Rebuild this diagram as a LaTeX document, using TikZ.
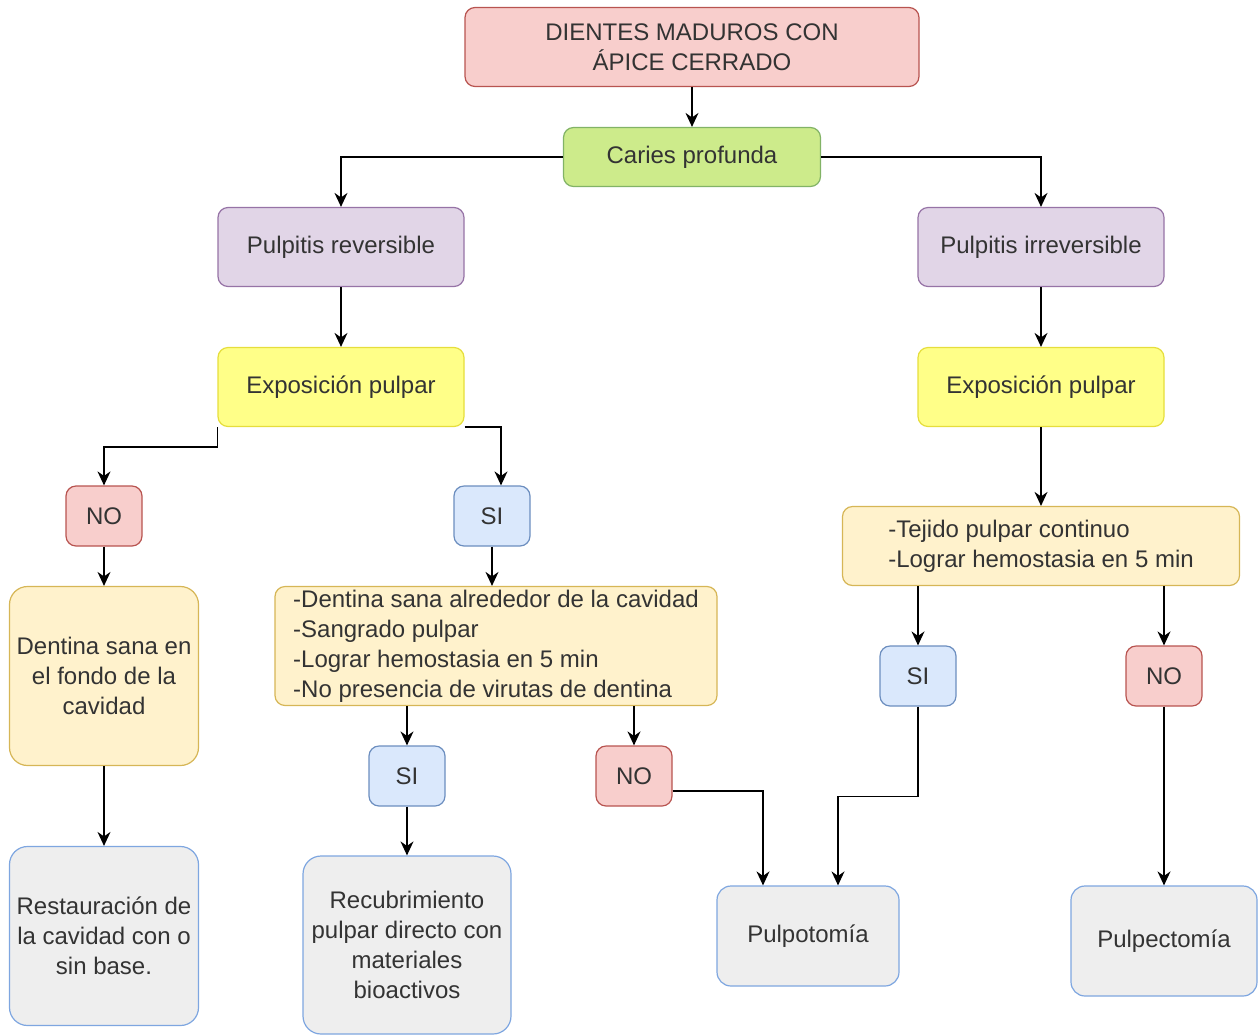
\documentclass[tikz,border=0pt]{standalone}
\usepackage{fontspec}
\setmainfont{Liberation Sans}
\usetikzlibrary{arrows.meta}

\definecolor{redfill}{HTML}{F8CECC}
\definecolor{redline}{HTML}{B85450}
\definecolor{greenfill}{HTML}{CDEB8B}
\definecolor{greenline}{HTML}{82B366}
\definecolor{lilafill}{HTML}{E1D5E7}
\definecolor{lilaline}{HTML}{9673A6}
\definecolor{yellowfill}{HTML}{FFFF88}
\definecolor{yellowline}{HTML}{E6DE3C}
\definecolor{notefill}{HTML}{FFF2CC}
\definecolor{noteline}{HTML}{D6B656}
\definecolor{bluefill}{HTML}{DAE8FC}
\definecolor{blueline}{HTML}{6C8EBF}
\definecolor{grayfill}{HTML}{EEEEEE}
\definecolor{grayline}{HTML}{7EA6E0}
\definecolor{txt}{HTML}{333333}

\tikzset{
  box/.style={draw, rounded corners=5pt, line width=0.6pt, inner sep=0pt,
    align=center, text=txt, font=\fontsize{12}{15}\selectfont},
  redbox/.style={box, fill=redfill, draw=redline},
  greenbox/.style={box, fill=greenfill, draw=greenline},
  lilabox/.style={box, fill=lilafill, draw=lilaline},
  yellowbox/.style={box, fill=yellowfill, draw=yellowline},
  notebox/.style={box, fill=notefill, draw=noteline},
  bluebox/.style={box, fill=bluefill, draw=blueline},
  endbox/.style={box, fill=grayfill, draw=grayline, rounded corners=9pt},
  answer/.style={minimum width=38pt, minimum height=30pt},
  arrow/.style={-{Stealth[length=7pt,width=6.5pt]}, line width=0.7pt, black}
}

\begin{document}
\begin{tikzpicture}[x=0.5pt, y=-0.5pt]
  % page size, same as the 1258 x 1034 reference
  \useasboundingbox (0,0) rectangle (1258,1034);

  % top of the tree
  \node[redbox, minimum width=227pt, minimum height=39.5pt] (dientes) at (692,47)
    {DIENTES MADUROS CON\\ÁPICE CERRADO};
  \node[greenbox, minimum width=128.5pt, minimum height=29.5pt] (caries) at (692,157)
    {Caries profunda};

  % the two kinds of pulpitis
  \node[lilabox, minimum width=123pt, minimum height=39.5pt] (prev) at (341,247)
    {Pulpitis reversible};
  \node[lilabox, minimum width=123pt, minimum height=39.5pt] (pirr) at (1041,247)
    {Pulpitis irreversible};
  \node[yellowbox, minimum width=123pt, minimum height=39.5pt] (expL) at (341,387)
    {Exposición pulpar};
  \node[yellowbox, minimum width=123pt, minimum height=39.5pt] (expR) at (1041,387)
    {Exposición pulpar};

  % reversible branch
  \node[redbox, answer] (noL) at (104,516) {NO};
  \node[bluebox, answer] (siL) at (492,516) {SI};
  \node[notebox, rounded corners=9pt, minimum width=94.5pt, minimum height=89.5pt] (dentL) at (104,676)
    {Dentina sana en\\el fondo de la\\cavidad};
  \node[notebox, align=left, minimum width=221pt, minimum height=59.5pt] (listL) at (496,646)
    {-Dentina sana alrededor de la cavidad\\-Sangrado pulpar\\-Lograr hemostasia en 5 min\\-No presencia de virutas de dentina};
  \node[bluebox, answer] (siM) at (407,776) {SI};
  \node[redbox, answer] (noM) at (634,776) {NO};

  % irreversible branch
  \node[notebox, align=left, minimum width=198.5pt, minimum height=39.5pt] (listR) at (1041,546)
    {-Tejido pulpar continuo\\-Lograr hemostasia en 5 min};
  \node[bluebox, answer] (siR) at (918,676) {SI};
  \node[redbox, answer] (noR) at (1164,676) {NO};

  % treatments
  \node[endbox, minimum width=94.5pt, minimum height=89.5pt] (restaur) at (104,936)
    {Restauración de\\la cavidad con o\\sin base.};
  \node[endbox, minimum width=104pt, minimum height=89pt] (recub) at (407,945)
    {Recubrimiento\\pulpar directo con\\materiales\\bioactivos};
  \node[endbox, rounded corners=7pt, minimum width=91pt, minimum height=50pt] (pulpot) at (808,936)
    {Pulpotomía};
  \node[endbox, rounded corners=7pt, minimum width=93pt, minimum height=55pt] (pulpect) at (1164,941)
    {Pulpectomía};

  % connectors
  \draw[arrow] (dientes) -- (caries);
  \draw[arrow] (caries.west) -| (prev.north);
  \draw[arrow] (caries.east) -| (pirr.north);
  \draw[arrow] (prev) -- (expL);
  \draw[arrow] (pirr) -- (expR);
  \draw[arrow] (expL.south west) -- ++(0,20) -| (noL.north);
  \draw[arrow] (expL.south east) -| ([xshift=4.5pt]siL.north);
  \draw[arrow] (noL) -- (dentL);
  \draw[arrow] (siL.south) -- (siL.south |- listL.north);
  \draw[arrow] (dentL) -- (restaur);
  \draw[arrow] (listL.south -| siM) -- (siM);
  \draw[arrow] (listL.south -| noM) -- (noM);
  \draw[arrow] (siM) -- (recub);
  \draw[arrow] ([yshift=-7.5pt]noM.east) -| ([xshift=-22.5pt]pulpot.north);
  \draw[arrow] (expR) -- (listR);
  \draw[arrow] (listR.south -| siR) -- (siR);
  \draw[arrow] (listR.south -| noR) -- (noR);
  \draw[arrow] (siR.south) -- ++(0,90) -| ([xshift=15pt]pulpot.north);
  \draw[arrow] (noR) -- (pulpect);
\end{tikzpicture}
\end{document}
